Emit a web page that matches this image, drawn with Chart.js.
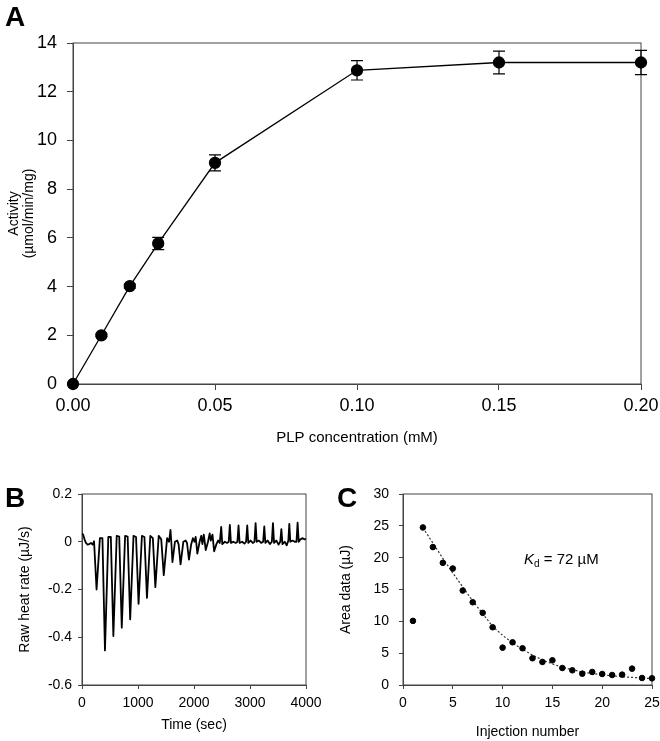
<!DOCTYPE html>
<html>
<head>
<meta charset="utf-8">
<script src="https://cdn.jsdelivr.net/npm/chart.js@4.4.0/dist/chart.umd.min.js"></script>
<style>
  body { margin: 0; background: #fff; width: 660px; height: 741px; position: relative; overflow: hidden;
         font-family: 'Liberation Sans', Arial, sans-serif; color: #000; }
  canvas { position: absolute; }
  .lbl { position: absolute; font-weight: bold; font-size: 28px; line-height: 28px; }
  #kd { position: absolute; left: 524px; top: 551px; font-size: 15px; line-height: 15px; white-space: nowrap; }
  #kd sub { font-size: 10px; line-height: 0; vertical-align: -3px; }
</style>
</head>
<body>
<canvas id="chartA" width="660" height="465" style="left:0;top:0"></canvas>
<canvas id="chartB" width="330" height="271" style="left:0;top:470px"></canvas>
<canvas id="chartC" width="330" height="271" style="left:330px;top:470px"></canvas>
<div class="lbl" style="left:5px;top:3px">A</div>
<div class="lbl" style="left:5px;top:484px">B</div>
<div class="lbl" style="left:337px;top:484px">C</div>
<div id="kd"><i>K</i><sub>d</sub> = 72 µM</div>
<script>
const FONT = "'Liberation Sans', Arial, sans-serif";
const AXIS = '#444';

// panel A - activity vs PLP
const plpConc = [0, 0.01, 0.02, 0.03, 0.05, 0.10, 0.15, 0.20];
const activity = [0, 2.0, 4.02, 5.77, 9.08, 12.88, 13.2, 13.2];
const activityErr = [0, 0.05, 0.08, 0.25, 0.33, 0.4, 0.47, 0.5];

// panel B - raw ITC trace
const heatTime = [0, 20, 45, 70, 100, 130, 160, 190, 215,
  260, 320, 365,
  410, 470, 515,
  560, 620, 665,
  710, 770, 815,
  860, 920, 965,
  1010, 1070, 1115,
  1160, 1220, 1265,
  1310, 1370, 1415,
  1460, 1520, 1555, 1580, 1595,
  1615, 1660, 1700, 1725,
  1760, 1810, 1850, 1875,
  1910, 1950, 1980, 2010, 2030,
  2060, 2100, 2130, 2150, 2175,
  2210, 2250, 2280, 2300, 2330,
  2360, 2400, 2430, 2460, 2486,
  2505, 2550, 2590, 2620, 2640,
  2660, 2700, 2745, 2775, 2795,
  2815, 2860, 2900, 2930, 2951,
  2970, 3010, 3050, 3080, 3100,
  3120, 3160, 3200, 3235, 3255,
  3275, 3315, 3355, 3390, 3410,
  3430, 3470, 3510, 3540, 3560,
  3580, 3620, 3655, 3685, 3702,
  3720, 3760, 3800, 3830, 3850,
  3870, 3900, 3940, 3970, 4000]
const heatRate = [0.035, 0.03, 0.01, -0.005, -0.012, -0.01, -0.005, -0.012, 0.002,
  -0.20, 0.015, 0.015,
  -0.455, 0.02, 0.02,
  -0.395, 0.025, 0.022,
  -0.36, 0.025, 0.022,
  -0.325, 0.025, 0.02,
  -0.26, 0.025, 0.02,
  -0.235, 0.025, 0.015,
  -0.19, 0.025, 0.01,
  -0.14, 0.015, 0.0, 0.05, 0.0,
  -0.085, 0.0, 0.005, -0.01,
  -0.095, 0.0, 0.005, -0.005,
  -0.075, -0.01, 0.015, 0.0, 0.02,
  -0.05, 0.0, 0.025, -0.01, 0.03,
  -0.035, 0.0, 0.035, 0.005, 0.03,
  -0.04, -0.01, 0.005, -0.005, 0.062,
  -0.01, 0.0, -0.005, 0.0, 0.071,
  -0.005, 0.0, -0.005, 0.0, 0.068,
  -0.005, 0.0, -0.008, 0.0, 0.068,
  -0.005, 0.005, -0.005, 0.0, 0.078,
  0.0, 0.005, -0.005, 0.0, 0.064,
  -0.005, 0.005, -0.01, 0.0, 0.078,
  -0.005, 0.005, -0.012, 0.0, 0.053,
  -0.01, 0.0, -0.015, 0.005, 0.075,
  0.0, 0.005, 0.0, 0.0, 0.08,
  0.0, 0.01, 0.015, 0.01, 0.012]

// panel C - integrated heats + fit
const injection = [1, 2, 3, 4, 5, 6, 7, 8, 9, 10, 11, 12, 13, 14, 15, 16, 17, 18, 19, 20, 21, 22, 23, 24, 25];
const areaData = [10.07, 24.75, 21.66, 19.19, 18.3, 14.84, 13.0, 11.33, 9.07, 5.87, 6.71, 5.77, 4.2,
  3.62, 3.88, 2.67, 2.31, 1.78, 2.05, 1.73, 1.57, 1.63, 2.57, 1.1, 1.05];
const fitInjection = [2, 3, 4, 5, 6, 7, 8, 9, 10, 11, 12, 13, 14, 15, 16, 17, 18, 19, 20, 21, 22, 23, 24, 25];
const fitArea = [24.7, 22.3, 19.9, 17.6, 15.4, 13.2, 11.2, 9.2, 7.8, 6.6, 5.6, 4.7, 3.95, 3.3,
  2.8, 2.4, 2.05, 1.8, 1.6, 1.45, 1.3, 1.2, 1.1, 1.0];

function pts(xs, ys) {
  return xs.map((x, i) => ({ x: x, y: ys[i] }));
}

// box round the plot area
const frame = {
  id: 'frame',
  beforeDatasetsDraw(chart) {
    const { ctx, chartArea: a } = chart;
    ctx.save();
    ctx.strokeStyle = AXIS;
    ctx.lineWidth = 1;
    ctx.strokeRect(a.left, a.top, a.right - a.left, a.bottom - a.top);
    ctx.restore();
  }
};

const errorBars = {
  id: 'errorBars',
  beforeDatasetsDraw(chart) {
    const { ctx, scales: { x, y } } = chart;
    ctx.save();
    ctx.strokeStyle = '#000';
    ctx.lineWidth = 1.2;
    for (var i = 0; i < plpConc.length; i++) {
      if (!activityErr[i]) continue;
      const px = x.getPixelForValue(plpConc[i]);
      const top = y.getPixelForValue(activity[i] + activityErr[i]);
      const bot = y.getPixelForValue(activity[i] - activityErr[i]);
      ctx.beginPath();
      ctx.moveTo(px, top); ctx.lineTo(px, bot);
      ctx.moveTo(px - 6, top); ctx.lineTo(px + 6, top);
      ctx.moveTo(px - 6, bot); ctx.lineTo(px + 6, bot);
      ctx.stroke();
    }
    ctx.restore();
  }
};

function axis(o) {
  return {
    type: 'linear',
    min: o.min, max: o.max,
    ticks: { stepSize: o.step, color: '#000', padding: o.pad, maxRotation: 0, autoSkip: false,
             font: { family: FONT, size: o.size }, callback: o.cb },
    grid: { drawOnChartArea: false, drawTicks: true, tickLength: o.tick, color: AXIS },
    border: { display: true, color: AXIS, width: 1 },
    title: { display: true, text: o.title, color: '#000',
             font: { family: FONT, size: o.tsize, lineHeight: 1.1 }, padding: o.tpad },
    afterFit(s) {
      if (s.isHorizontal()) { s.height = o.fit; s.paddingLeft = 0; s.paddingRight = 0; }
      else { s.width = o.fit; s.paddingTop = 0; s.paddingBottom = 0; }
    }
  };
}

function num(v) {
  var r = Math.round(v * 100) / 100;
  return r === 0 ? '0' : String(r);
}

const common = {
  responsive: false,
  animation: false,
  devicePixelRatio: 1,
  plugins: { legend: { display: false }, tooltip: { enabled: false } }
};

new Chart(document.getElementById('chartA'), {
  type: 'scatter',
  data: {
    datasets: [{
      data: pts(plpConc, activity),
      showLine: true,
      borderColor: '#000',
      borderWidth: 1.3,
      pointRadius: 5.5,
      pointBackgroundColor: '#000',
      pointBorderColor: '#000',
      clip: false
    }]
  },
  options: Object.assign({}, common, {
    layout: { padding: { left: 0, top: 43, right: 19, bottom: 0 } },
    scales: {
      x: axis({ min: 0, max: 0.2, step: 0.05, pad: 5, size: 18, tick: 6, cb: v => v.toFixed(2),
                title: 'PLP concentration (mM)', tsize: 15, tpad: { top: 0, bottom: 19 }, fit: 81 }),
      y: axis({ min: 0, max: 14, step: 2, pad: 10, size: 18, tick: 6, cb: v => String(v),
                title: ['Activity', '(µmol/min/mg)'], tsize: 14, tpad: { top: 6, bottom: 0 }, fit: 73 })
    }
  }),
  plugins: [frame, errorBars]
});

new Chart(document.getElementById('chartB'), {
  type: 'scatter',
  data: {
    datasets: [{
      data: pts(heatTime, heatRate),
      showLine: true,
      borderColor: '#000',
      borderWidth: 1.8,
      borderJoinStyle: 'round',
      pointRadius: 0
    }]
  },
  options: Object.assign({}, common, {
    layout: { padding: { left: 0, top: 24, right: 24, bottom: 0 } },
    scales: {
      x: axis({ min: 0, max: 4000, step: 1000, pad: 6, size: 14, tick: 4, cb: v => String(v),
                title: 'Time (sec)', tsize: 14, tpad: { top: 0, bottom: 8 }, fit: 56 }),
      y: axis({ min: -0.6, max: 0.2, step: 0.2, pad: 6, size: 14, tick: 4, cb: num,
                title: 'Raw heat rate (µJ/s)', tsize: 14, tpad: { top: 17, bottom: 0 }, fit: 82 })
    }
  }),
  plugins: [frame]
});

new Chart(document.getElementById('chartC'), {
  type: 'scatter',
  data: {
    datasets: [{
      data: pts(injection, areaData),
      pointRadius: 2.8,
      pointBackgroundColor: '#000',
      pointBorderColor: '#000',
      clip: false
    }, {
      data: pts(fitInjection, fitArea),
      showLine: true,
      borderColor: '#333',
      borderWidth: 1.2,
      borderDash: [2, 2],
      pointRadius: 0
    }]
  },
  options: Object.assign({}, common, {
    layout: { padding: { left: 0, top: 24, right: 8, bottom: 0 } },
    scales: {
      x: axis({ min: 0, max: 25, step: 5, pad: 6, size: 14, tick: 4, cb: v => String(v),
                title: 'Injection number', tsize: 14, tpad: { top: 0, bottom: 1 }, fit: 56 }),
      y: axis({ min: 0, max: 30, step: 5, pad: 10, size: 14, tick: 4, cb: v => String(v),
                title: 'Area data (µJ)', tsize: 14, tpad: { top: 8, bottom: 0 }, fit: 73 })
    }
  }),
  plugins: [frame]
});
</script>
</body>
</html>
